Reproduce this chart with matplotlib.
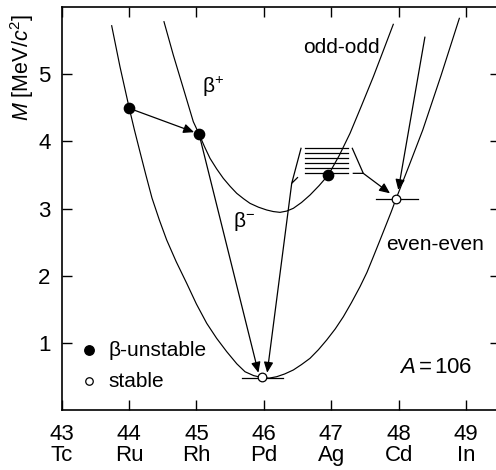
import numpy as np
import matplotlib as mpl
mpl.use('Agg')
import matplotlib.pyplot as plt

mpl.rcParams.update({'font.family': 'Liberation Sans', 'font.size': 15,
                     'mathtext.fontset': 'custom',
                     'mathtext.rm': 'Liberation Sans',
                     'mathtext.it': 'Liberation Sans:italic'})

# ---- values (Z, mass in MeV/c^2) ----
z_ticks = [43, 44, 45, 46, 47, 48, 49]
z_symbols = ['Tc', 'Ru', 'Rh', 'Pd', 'Ag', 'Cd', 'In']

# even-even mass curve
ee_z = [43.743, 43.866, 44.004, 44.08, 44.163, 44.25, 44.341, 44.45, 44.559, 44.70,
        44.856, 45.00, 45.153, 45.30, 45.450, 45.60, 45.721, 45.85, 45.973, 46.08,
        46.191, 46.31, 46.438, 46.56, 46.685, 46.81, 46.933, 47.06, 47.180, 47.30,
        47.427, 47.53, 47.625, 47.72, 47.823, 47.89, 47.961, 48.16, 48.358, 48.63,
        48.901]
ee_m = [5.718, 5.109, 4.490, 4.17, 3.841, 3.50, 3.156, 2.83, 2.532, 2.21,
        1.888, 1.58, 1.293, 1.07, 0.871, 0.69, 0.573, 0.515, 0.487, 0.478,
        0.499, 0.54, 0.599, 0.68, 0.772, 0.90, 1.045, 1.21, 1.391, 1.60,
        1.837, 2.05, 2.283, 2.52, 2.780, 2.95, 3.141, 3.65, 4.167, 4.98,
        5.828]

# odd-odd mass curve
oo_z = [44.519, 44.657, 44.806, 44.954, 45.039, 45.12, 45.202, 45.30, 45.399, 45.50,
        45.598, 45.70, 45.795, 45.92, 46.043, 46.14, 46.240, 46.34, 46.438, 46.56,
        46.686, 46.82, 46.957, 47.12, 47.279, 47.45, 47.625, 47.77, 47.921]
oo_m = [5.778, 5.283, 4.787, 4.291, 4.108, 3.92, 3.746, 3.59, 3.449, 3.33,
        3.226, 3.145, 3.077, 3.02, 2.978, 2.955, 2.943, 2.962, 3.003, 3.09,
        3.201, 3.34, 3.498, 3.79, 4.118, 4.53, 4.960, 5.34, 5.739]

# nuclides
nuc_name = ['Ru', 'Rh', 'Pd', 'Ag', 'Cd']
nuc_z = [44.004, 45.039, 45.973, 46.957, 47.961]
nuc_m = [4.490, 4.108, 0.500, 3.498, 3.141]
nuc_stable = [False, False, True, False, True]

# excited levels of Ag
level_m = [3.523, 3.598, 3.672, 3.747, 3.821, 3.895]

fig = plt.figure(figsize=(4.96, 4.70), dpi=100)
ax = fig.add_axes([0.1242, 0.1271, 0.8833, 0.8585])

ax.plot(ee_z, ee_m, color='black', lw=0.85, zorder=2)
ax.plot(oo_z, oo_m, color='black', lw=0.85, zorder=2)

# ground-state bars for the stable nuclides
ax.plot([45.67, 46.29], [0.484, 0.484], color='black', lw=0.9, zorder=2)
ax.plot([47.665, 48.29], [3.137, 3.137], color='black', lw=0.9, zorder=2)

# Ag level scheme with brackets
for m in level_m:
    ax.plot([46.611, 47.254], [m, m], color='black', lw=0.9, zorder=2)
ax.plot([46.552, 46.414, 46.50], [3.895, 3.375, 3.46], color='black', lw=0.9, zorder=2)
ax.plot([47.313, 47.476, 47.328], [3.895, 3.523, 3.523], color='black', lw=0.9, zorder=2)

arrow_kw = dict(arrowstyle='-|>,head_length=0.45,head_width=0.2', color='black',
                lw=0.9, mutation_scale=14, shrinkA=0)


def arrow(x0, y0, x1, y1, shrink_b=0):
    ax.annotate('', xy=(x1, y1), xytext=(x0, y0),
                arrowprops=dict(arrow_kw, shrinkB=shrink_b), zorder=3)


arrow(nuc_z[0], nuc_m[0], nuc_z[1], nuc_m[1], shrink_b=3.8)   # Ru -> Rh
arrow(nuc_z[1], nuc_m[1], 45.92, 0.558)                        # Rh -> Pd
arrow(46.414, 3.375, 46.05, 0.558)                             # Ag -> Pd
arrow(47.476, 3.523, 47.872, 3.226)                            # Ag -> Cd
arrow(48.39, 5.55, 47.995, 3.275)                              # In -> Cd

for n, z, m, st in zip(nuc_name, nuc_z, nuc_m, nuc_stable):
    if st:
        ax.plot(z, m, 'o', ms=6.2, mfc='white', mec='black', mew=0.9, zorder=4)
    else:
        ax.plot(z, m, 'o', ms=7.4, mfc='black', mec='black', zorder=4)

# labels
ax.text(45.25, 4.81, 'β$^{+}$', ha='center', va='center', fontsize=15)
ax.text(45.70, 2.80, 'β$^{-}$', ha='center', va='center', fontsize=15)
ax.text(47.15, 5.39, 'odd-odd', ha='center', va='center', fontsize=15)
ax.text(48.54, 2.47, 'even-even', ha='center', va='center', fontsize=15)
ax.text(49.10, 0.63, r'$A\,$=$\,$106', ha='right', va='center', fontsize=16)

# legend
ax.plot(43.40, 0.896, 'o', ms=6.8, mfc='black', mec='black')
ax.plot(43.40, 0.431, 'o', ms=5.4, mfc='white', mec='black', mew=0.9)
ax.text(43.69, 0.896, 'β-unstable', ha='left', va='center', fontsize=15)
ax.text(43.69, 0.431, 'stable', ha='left', va='center', fontsize=15)

ax.set_xlim(43, 49.5)
ax.set_ylim(0, 6)
ax.set_xticks(z_ticks)
ax.set_xticklabels([f'{z}\n{s}' for z, s in zip(z_ticks, z_symbols)], linespacing=0.98)
ax.set_yticks([1, 2, 3, 4, 5])
ax.tick_params(direction='in', length=7.5, width=1.0, top=True, right=True,
               labelsize=16)
ax.tick_params(axis='x', pad=10)
ax.tick_params(axis='y', pad=8)
for s in ax.spines.values():
    s.set_linewidth(1.2)

fig.text(22 / 496, 1 - 67 / 470, r'$M$ [MeV/$c^2$]', rotation=90,
         ha='center', va='center', fontsize=15.5)

fig.savefig('out.png', dpi=100)
